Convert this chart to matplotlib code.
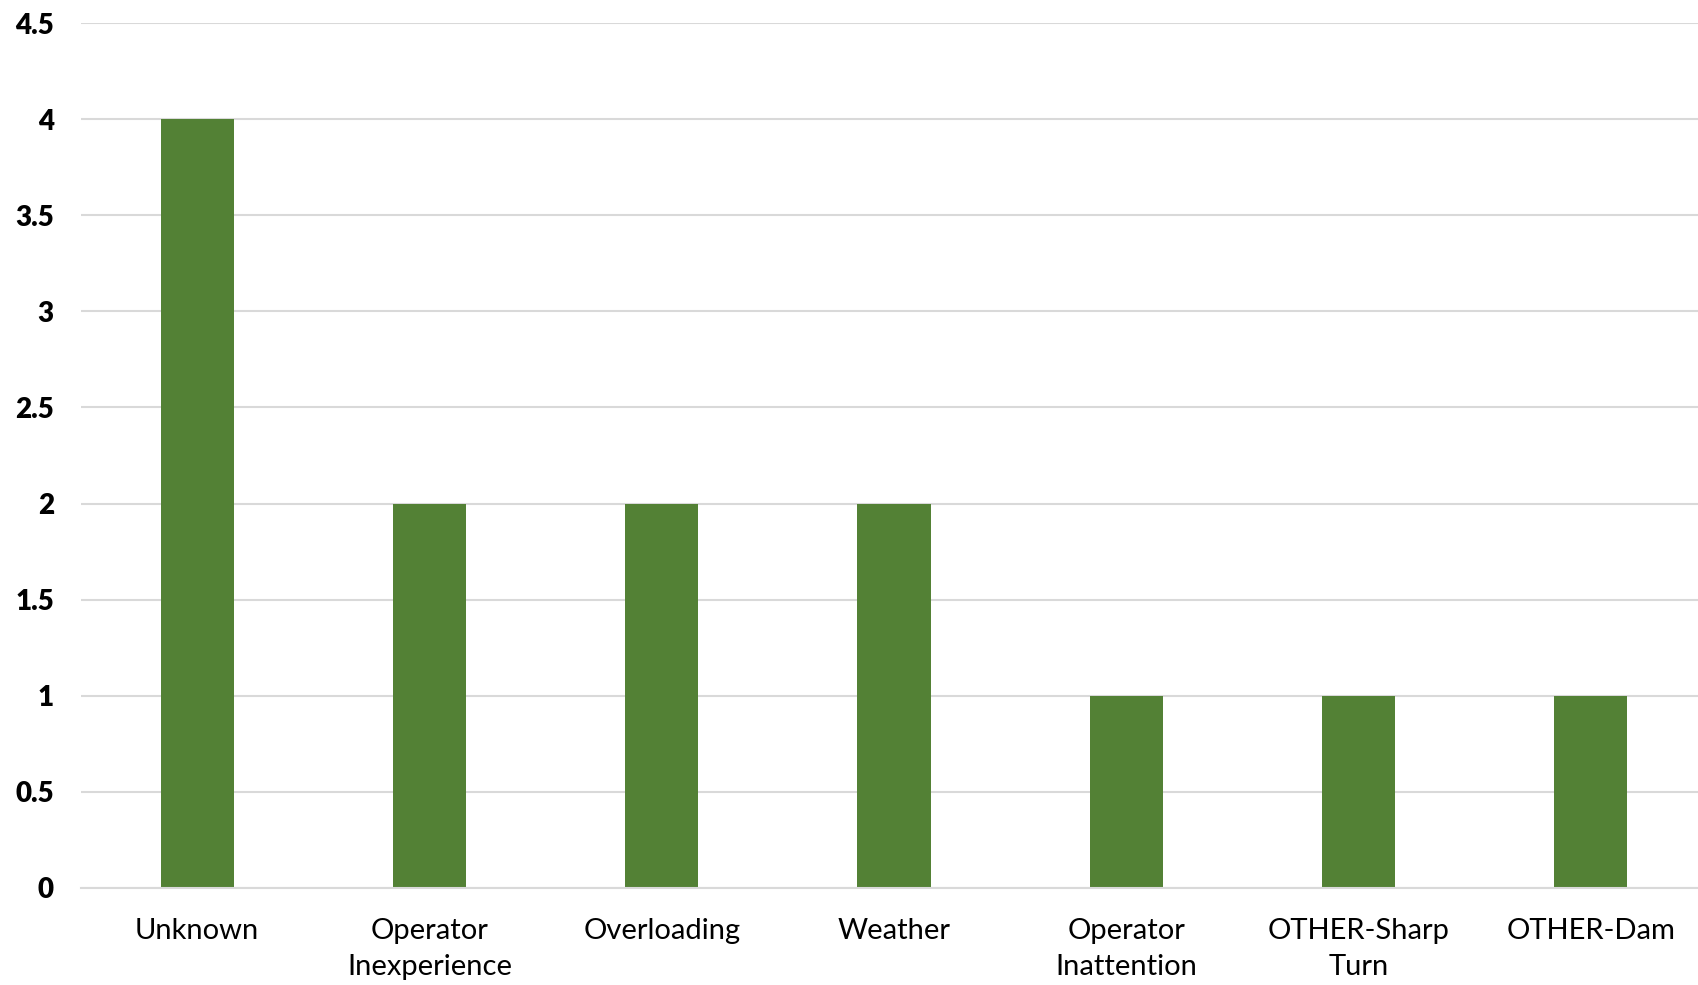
import matplotlib
matplotlib.use("Agg")
import matplotlib.pyplot as plt

categories = ["Unknown", "Operator\nInexperience", "Overloading", "Weather",
              "Operator\nInattention", "OTHER-Sharp\nTurn", "OTHER-Dam"]
values = [4, 2, 2, 2, 1, 1, 1]
yticks = [0, 0.5, 1, 1.5, 2, 2.5, 3, 3.5, 4, 4.5]
ytick_labels = ["0", "0.5", "1", "1.5", "2", "2.5", "3", "3.5", "4", "4.5"]

plt.rcParams['font.family'] = ['Lato', 'DejaVu Sans']

fig = plt.figure(figsize=(16.99, 9.85), dpi=100)
ax = fig.add_axes([81/1699, 1-888/985, 1626/1699, (888-23)/985])

x = list(range(len(categories)))
ax.bar(x, values, width=0.315, color="#538135", zorder=3)
ax.set_xlim(-0.5, len(categories)-0.5)
ax.set_ylim(0, 4.5)
ax.set_yticks(yticks)
ax.set_yticklabels(ytick_labels, fontsize=20, fontweight="heavy")
ax.set_xticks(x)
ax.set_xticklabels(categories, fontsize=21, linespacing=1.5, va="top")
ax.tick_params(axis="y", length=0, pad=19.5)
ax.tick_params(axis="x", length=0, pad=21.5)
ax.grid(axis="y", color="#d9d9d9", linewidth=1.5, zorder=0)
for s in ["top", "right", "left"]:
    ax.spines[s].set_visible(False)
ax.spines["bottom"].set_color("#d9d9d9")
ax.spines["bottom"].set_linewidth(1.5)
ax.spines["bottom"].set_zorder(4)

fig.savefig("out.png", dpi=100)
